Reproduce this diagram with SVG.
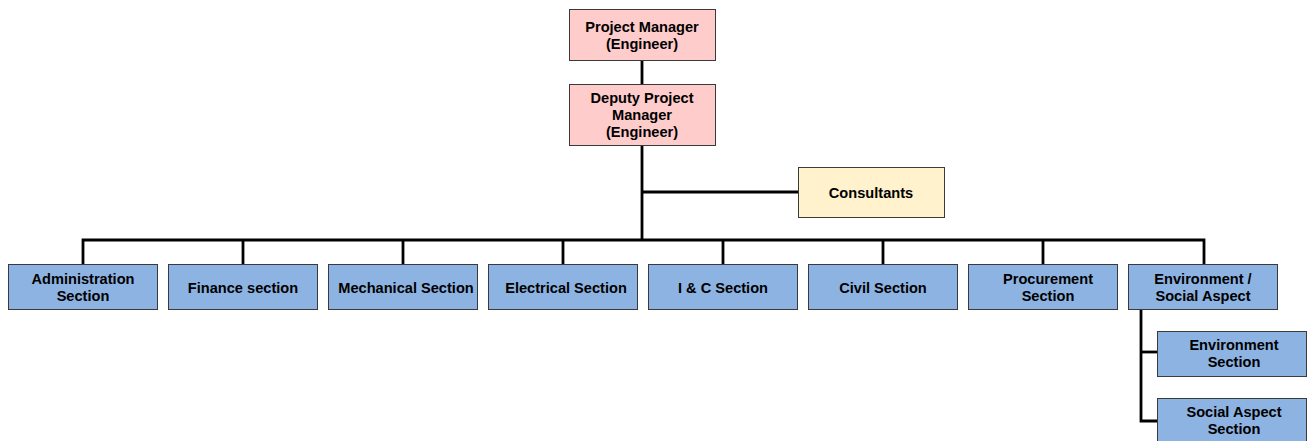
<svg xmlns="http://www.w3.org/2000/svg" width="1314" height="441" viewBox="0 0 1314 441">
<style>
.box{stroke:#3a3a3a;stroke-width:1}
.pm{fill:#FFCCCC}
.cons{fill:#FFF2CC}
.sec{fill:#8DB3E2}
text{font-family:"Liberation Sans",Arial,sans-serif;font-weight:bold;font-size:14.6px;fill:#000;text-anchor:middle}
.ln{stroke:#000;stroke-width:2.8;fill:none}
</style>
<rect width="1314" height="441" fill="#fff"/>
<g id="connectors">
<line class="ln" x1="642" y1="60" x2="642" y2="84"/>
<line class="ln" x1="642" y1="146" x2="642" y2="240"/>
<line class="ln" x1="642" y1="192" x2="798" y2="192"/>
<polyline class="ln" points="83,264 83,240 1204,240 1204,264"/>
<line class="ln" x1="243" y1="240" x2="243" y2="264"/>
<line class="ln" x1="403" y1="240" x2="403" y2="264"/>
<line class="ln" x1="563" y1="240" x2="563" y2="264"/>
<line class="ln" x1="723" y1="240" x2="723" y2="264"/>
<line class="ln" x1="883" y1="240" x2="883" y2="264"/>
<line class="ln" x1="1043" y1="240" x2="1043" y2="264"/>
<polyline class="ln" points="1141,309 1141,421 1157,421"/>
<line class="ln" x1="1141" y1="352" x2="1157" y2="352"/>
</g>
<g id="pm"><rect class="box pm" x="569.5" y="9.5" width="146" height="51"/><text x="642" y="32">Project Manager</text><text x="642" y="49">(Engineer)</text></g>
<g id="dpm"><rect class="box pm" x="569.5" y="84.5" width="146" height="61"/><text x="642" y="103">Deputy Project</text><text x="642" y="120">Manager</text><text x="642" y="137">(Engineer)</text></g>
<g id="consultants"><rect class="box cons" x="798.5" y="167.5" width="146" height="50"/><text x="871" y="198">Consultants</text></g>
<g id="admin"><rect class="box sec" x="8.5" y="264.5" width="149" height="45"/><text x="83" y="284">Administration</text><text x="83" y="301">Section</text></g>
<g id="finance"><rect class="box sec" x="168.5" y="264.5" width="149" height="45"/><text x="243" y="293">Finance section</text></g>
<g id="mechanical"><rect class="box sec" x="328.5" y="264.5" width="149" height="45"/><text x="406" y="293">Mechanical Section</text></g>
<g id="electrical"><rect class="box sec" x="488.5" y="264.5" width="149" height="45"/><text x="566" y="293">Electrical Section</text></g>
<g id="ic"><rect class="box sec" x="648.5" y="264.5" width="149" height="45"/><text x="723" y="293">I &amp; C Section</text></g>
<g id="civil"><rect class="box sec" x="808.5" y="264.5" width="149" height="45"/><text x="883" y="293">Civil Section</text></g>
<g id="procurement"><rect class="box sec" x="968.5" y="264.5" width="149" height="45"/><text x="1048" y="284">Procurement</text><text x="1048" y="301">Section</text></g>
<g id="envsocial"><rect class="box sec" x="1128.5" y="264.5" width="149" height="45"/><text x="1203" y="284">Environment /</text><text x="1203" y="301">Social Aspect</text></g>
<g id="envsection"><rect class="box sec" x="1157.5" y="331.5" width="149" height="45"/><text x="1234" y="350">Environment</text><text x="1234" y="367">Section</text></g>
<g id="socialsection"><rect class="box sec" x="1157.5" y="398.5" width="149" height="45"/><text x="1234" y="417">Social Aspect</text><text x="1234" y="434">Section</text></g>
</svg>
